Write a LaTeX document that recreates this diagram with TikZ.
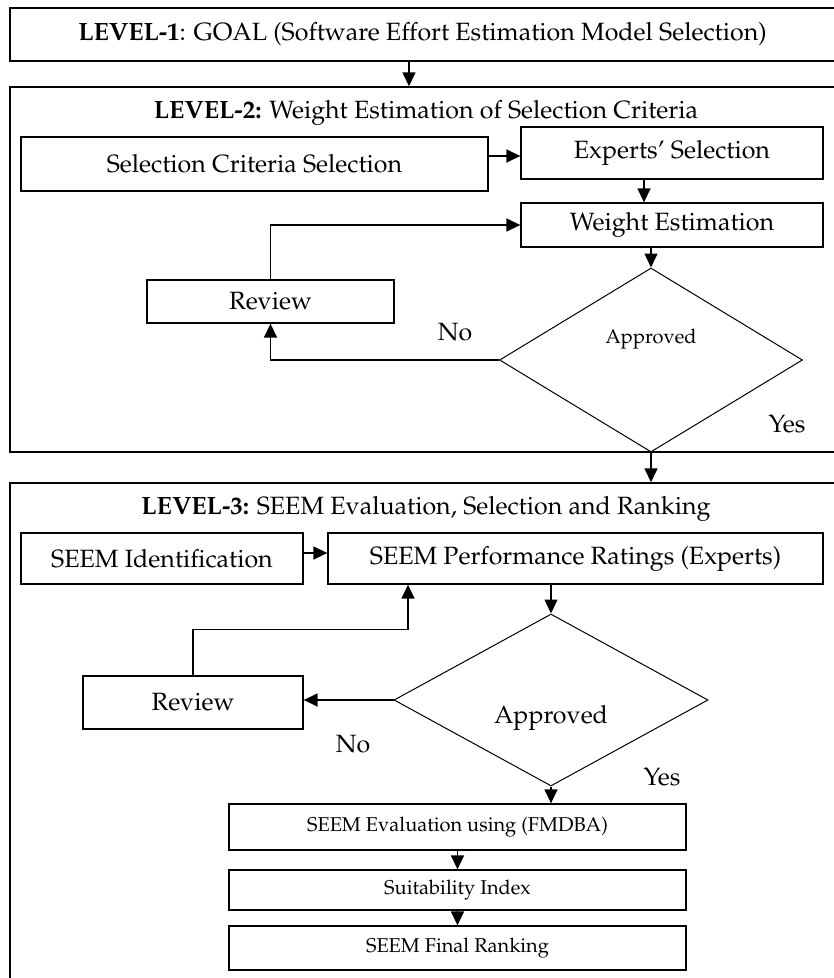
\documentclass[tikz,border=0pt]{standalone}
\usepackage[T1]{fontenc}
\usepackage{mathpazo}
\usetikzlibrary{shapes.geometric,arrows.meta}
\tikzset{
  box/.style={draw,line width=1.3pt,inner sep=0pt,font=\fontsize{25}{29}\selectfont},
  smallbox/.style={box,font=\fontsize{20}{24}\selectfont},
  lvlbox/.style={draw,line width=1.4pt,inner sep=0pt},
  decision/.style={draw,diamond,line width=1pt,inner sep=0pt},
  arr/.style={line width=1.4pt,-{Triangle[length=14pt,width=13pt]}},
  lbl/.style={font=\fontsize{25}{29}\selectfont}
}
\begin{document}
\begin{tikzpicture}[x=1pt,y=-1pt]
  \useasboundingbox (0,0) rectangle (834,978);
  % level frames
  \node[box,minimum width=825pt,minimum height=53pt] (lvl1) at (422.5,34.5) {\textbf{LEVEL-1}: GOAL (Software Effort Estimation Model Selection)};
  \node[lvlbox,minimum width=825pt,minimum height=365pt] (lvl2) at (422.5,269.5) {};
  \node[lvlbox,minimum width=825pt,minimum height=497pt] (lvl3) at (422.5,731.5) {};
  \draw[arr] ([xshift=-13.5pt]lvl1.south) -- ([xshift=-13.5pt]lvl2.north);
  % level 2
  \node[lbl] (t2) at (426,113) {\textbf{LEVEL-2:} Weight Estimation of Selection Criteria};
  \node[box,minimum width=467pt,minimum height=54pt] (scs) at (254.5,164) {Selection Criteria Selection};
  \node[box,minimum width=302pt,minimum height=52pt] (exp) at (672,153) {Experts' Selection};
  \node[box,minimum width=302pt,minimum height=44pt] (we) at (672,225) {\raisebox{-3pt}{Weight Estimation}};
  \node[decision,minimum width=303pt,minimum height=184pt,font=\fontsize{20}{24}\selectfont] (d1) at (651,360) {\raisebox{17pt}[0pt][0pt]{Approved}};
  \node[box,minimum width=247pt,minimum height=43pt] (rev1) at (270.5,301.5) {Review};
  \node[lbl] (no1) at (455,332) {No};
  \node[lbl] (yes1) at (787,424) {Yes};
  \draw[arr] ([yshift=8pt]scs.east) -- ([yshift=8pt]scs.east -| exp.west);
  \draw[arr] ([xshift=-28pt]exp.south) -- ([xshift=-28pt]we.north);
  \draw[arr] (we.south -| d1.north) -- (d1.north);
  \draw[arr] (d1.west) -| (rev1.south);
  \draw[arr] (rev1.north) |- (we.west);
  \draw[arr] (d1.south) -- (d1.south |- lvl3.north);
  % level 3
  \node[lbl] (t3) at (426,509) {\textbf{LEVEL-3:} SEEM Evaluation, Selection and Ranking};
  \node[box,minimum width=282pt,minimum height=51pt] (sid) at (162,558.5) {SEEM Identification};
  \node[box,minimum width=495pt,minimum height=51pt] (spr) at (575.5,558.5) {SEEM Performance Ratings (Experts)};
  \node[decision,minimum width=314pt,minimum height=172pt,font=\fontsize{25}{29}\selectfont] (d2) at (551,700) {\raisebox{-23pt}[0pt][0pt]{Approved}};
  \node[box,minimum width=220pt,minimum height=53pt] (rev2) at (193,702.5) {Review};
  \node[lbl] (no2) at (353,744) {No};
  \node[lbl] (yes2) at (662,777) {Yes};
  \node[smallbox,minimum width=457pt,minimum height=46pt] (eval) at (457.5,827) {SEEM Evaluation using (FMDBA)};
  \node[smallbox,minimum width=457pt,minimum height=40pt] (suit) at (457.5,890) {Suitability Index};
  \node[smallbox,minimum width=457pt,minimum height=44pt] (rank) at (457.5,948) {SEEM Final Ranking};
  \draw[arr] ([yshift=5.5pt]sid.east) -- ([yshift=5.5pt]sid.east -| spr.west);
  \draw[arr] (spr.south -| d2.north) -- (d2.north);
  \draw[arr] (d2.west) -- (d2.west -| rev2.east);
  \draw[arr] (rev2.north) -- ++(0,-46) -| ([xshift=-167.5pt]spr.south);
  \draw[arr] (d2.south) -- (d2.south |- eval.north);
  \draw[arr] (eval.south) -- (suit.north);
  \draw[arr] (suit.south) -- (rank.north);
\end{tikzpicture}
\end{document}
